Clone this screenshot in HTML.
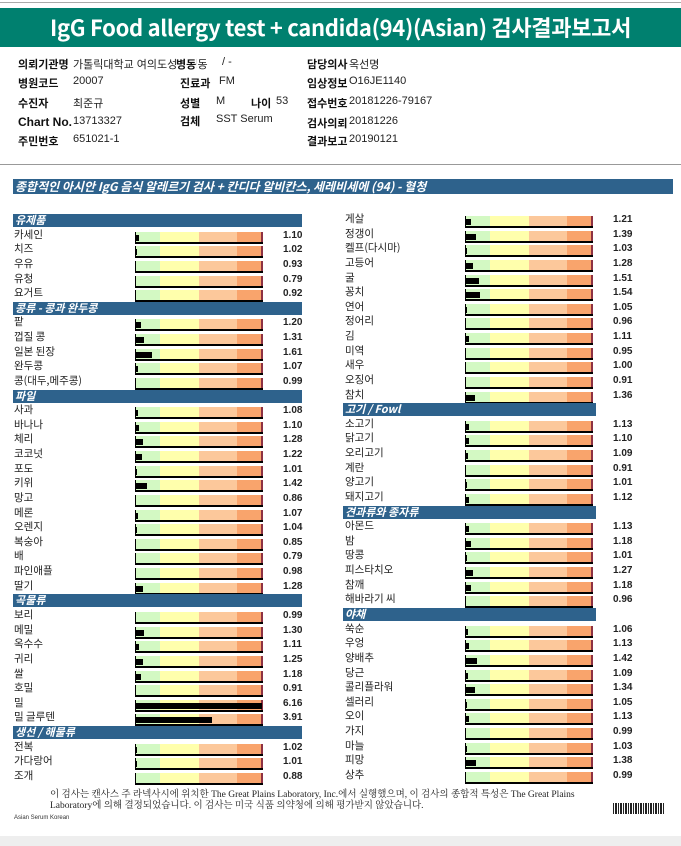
<!DOCTYPE html>
<html><head><meta charset="utf-8">
<style>
html,body{margin:0;padding:0;background:#fff;}
#page{position:relative;width:681px;height:846px;overflow:hidden;background:#fff;font-family:"Liberation Sans","Noto Sans CJK KR",sans-serif;}
.abs{position:absolute;}
.lbl{font-size:11px;font-weight:bold;color:#111;font-family:"Noto Sans CJK KR","Liberation Sans",sans-serif;white-space:nowrap;}
.val{font-size:11px;color:#222;font-family:"Liberation Sans Narrow","Liberation Sans","Noto Sans CJK KR",sans-serif;white-space:nowrap;}
.name{font-size:10.5px;color:#222;font-family:"Noto Sans CJK KR",sans-serif;white-space:nowrap;}
.num{font-size:10px;font-weight:bold;color:#222;font-family:"Liberation Sans",sans-serif;}
.hdr{background:#2e628c;color:#fff;font-size:11px;font-weight:bold;font-style:italic;padding-left:2px;box-sizing:border-box;white-space:nowrap;font-family:"Noto Sans CJK KR",sans-serif;line-height:13px;}
</style></head>
<body>
<div id="page">
  <div class="abs" style="left:0;top:2px;width:681px;height:1px;background:#aaa"></div>
  <div class="abs" style="left:0;top:8px;width:681px;height:39px;background:#00806f;color:#fff;font-size:22px;font-weight:bold;letter-spacing:-0.3px;line-height:39px;text-align:center;font-family:'Noto Sans CJK KR','Liberation Sans',sans-serif;">IgG Food allergy test + candida(94)(Asian) 검사결과보고서</div>

  <div>
    <div class="abs lbl" style="left:18px;top:56px">의뢰기관명</div><div class="abs val" style="left:73px;top:56px">가톨릭대학교 여의도성모병동</div><div class="abs lbl" style="left:176px;top:56px;background:#fff">병동</div><div class="abs val" style="left:222px;top:56px">/ -</div>
    <div class="abs lbl" style="left:18px;top:75px">병원코드</div><div class="abs val" style="left:73px;top:75px">20007</div>
    <div class="abs lbl" style="left:180px;top:75px">진료과</div><div class="abs val" style="left:219px;top:75px">FM</div>
    <div class="abs lbl" style="left:18px;top:95px">수진자</div><div class="abs val" style="left:73px;top:95px">최준규</div>
    <div class="abs lbl" style="left:180px;top:95px">성별</div><div class="abs val" style="left:216px;top:95px">M</div>
    <div class="abs lbl" style="left:251px;top:95px">나이</div><div class="abs val" style="left:276px;top:95px">53</div>
    <div class="abs lbl" style="left:18px;top:115px;font-family:'Liberation Sans',sans-serif;font-size:12px">Chart No.</div><div class="abs val" style="left:73px;top:115px">13713327</div>
    <div class="abs lbl" style="left:180px;top:113px">검체</div><div class="abs val" style="left:216px;top:113px">SST Serum</div>
    <div class="abs lbl" style="left:18px;top:133px">주민번호</div><div class="abs val" style="left:73px;top:133px">651021-1</div>
    <div class="abs lbl" style="left:307px;top:56px">담당의사</div><div class="abs val" style="left:349px;top:56px">옥선명</div>
    <div class="abs lbl" style="left:307px;top:75px">임상정보</div><div class="abs val" style="left:349px;top:75px">O16JE1140</div>
    <div class="abs lbl" style="left:307px;top:95px">접수번호</div><div class="abs val" style="left:349px;top:95px">20181226-79167</div>
    <div class="abs lbl" style="left:307px;top:115px">검사의뢰</div><div class="abs val" style="left:349px;top:115px">20181226</div>
    <div class="abs lbl" style="left:307px;top:133px">결과보고</div><div class="abs val" style="left:349px;top:133px">20190121</div>
  </div>
  <div class="abs" style="left:0;top:164px;width:681px;height:1px;background:#999"></div>

  <div class="abs hdr" style="left:13px;top:179px;width:660px;height:15px;font-size:12px;line-height:15px">종합적인 아시안 IgG 음식 알레르기 검사 + 칸디다 알비칸스, 세레비세에 (94) - 혈청</div>

  <div id="chart"></div>

  <div class="abs" style="left:50px;top:790px;width:540px;font-size:9.5px;line-height:11px;color:#222;font-family:'Liberation Serif','Noto Serif CJK SC',serif">이 검사는 캔사스 주 라넥사시에 위치한 The Great Plains Laboratory, Inc.에서 실행했으며, 이 검사의 종합적 특성은 The Great Plains Laboratory에 의해 결정되었습니다. 이 검사는 미국 식품 의약청에 의해 평가받지 않았습니다.</div>
  <div class="abs" style="left:14px;top:815px;font-size:6px;color:#333">Asian Serum Korean</div>
  <div class="abs" style="left:613px;top:803px;width:52px;height:11px;background:repeating-linear-gradient(90deg,#222 0 1px,#fff 1px 2px,#222 2px 4px,#fff 4px 5px)"></div>
  <div class="abs" style="left:0;top:836px;width:681px;height:10px;background:#eee"></div>
</div>
<script>
// null value => section header
const leftNames=["유제품","카세인","치즈","우유","유청","요거트","콩류 - 콩과 완두콩","팥","껍질 콩","일본 된장","완두콩","콩(대두,메주콩)","파일","사과","바나나","체리","코코넛","포도","키위","망고","메론","오렌지","복숭아","배","파인애플","딸기","곡물류","보리","메밀","옥수수","귀리","쌀","호밀","밀","밀 글루텐","생선 / 해물류","전복","가다랑어","조개"];
const leftValues=[null,1.10,1.02,0.93,0.79,0.92,null,1.20,1.31,1.61,1.07,0.99,null,1.08,1.10,1.28,1.22,1.01,1.42,0.86,1.07,1.04,0.85,0.79,0.98,1.28,null,0.99,1.30,1.11,1.25,1.18,0.91,6.16,3.91,null,1.02,1.01,0.88];
const rightNames=["게살","정갱이","켈프(다시마)","고등어","굴","꽁치","연어","정어리","김","미역","새우","오징어","참치","고기 / Fowl","소고기","닭고기","오리고기","계란","양고기","돼지고기","견과류와 종자류","아몬드","밤","땅콩","피스타치오","참깨","해바라기 씨","야채","쑥순","우엉","양배추","당근","콜리플라워","셀러리","오이","가지","마늘","피망","상추"];
const rightValues=[1.21,1.39,1.03,1.28,1.51,1.54,1.05,0.96,1.11,0.95,1.00,0.91,1.36,null,1.13,1.10,1.09,0.91,1.01,1.12,null,1.13,1.18,1.01,1.27,1.18,0.96,null,1.06,1.13,1.42,1.09,1.34,1.05,1.13,0.99,1.03,1.38,0.99];

const PITCH=14.63, SCALE_W=127, PX_PER_UNIT=26;
function xScale(v){return Math.max(0,Math.min(SCALE_W-1,(v-1)*PX_PER_UNIT));}
const chart=document.getElementById('chart');
function mk(cls,style){const d=document.createElement('div');d.className='abs '+(cls||'');d.style.cssText=style;chart.appendChild(d);return d;}
function drawColumn(names,values,cfg){
  names.forEach((n,i)=>{
    const top=cfg.top+i*PITCH;
    const v=values[i];
    if(v===null){
      const h=mk('hdr',`left:${cfg.hx}px;top:${top}px;width:${cfg.hw}px;height:13px;`);
      h.textContent=n;
      
      
      return;
    }
    const lab=mk('name',`left:${cfg.lx}px;top:${top-1}px;line-height:14px;`);
    lab.textContent=n;
    
    
    const bx=cfg.bx, by=top+3;
    const band=mk('',`left:${bx}px;top:${by}px;width:${SCALE_W}px;height:10px;background:linear-gradient(90deg,#d3f9c3 0 24px,#ffffac 24px 63px,#fcc89b 63px 101px,#f9a46c 101px 125px,#8e3142 125px 127px);border-bottom:2px solid #000;border-left:1px solid #000;box-sizing:content-box;`);
    
    
    const w=xScale(v);
    if(w>0){
      const b=mk('',`left:${bx+1}px;top:${by+3}px;width:${w}px;height:6px;background:#000;`);
      
      
    }
    const num=mk('num',`left:${cfg.nx}px;top:${top}px;line-height:14px;`);
    num.textContent=v.toFixed(2);
    
    
  });
}
drawColumn(leftNames,leftValues,{top:214,hx:13,hw:289,lx:14,bx:135,nx:283});
drawColumn(rightNames,rightValues,{top:213,hx:343,hw:253,lx:345,bx:465,nx:613});
</script>
</body></html>
